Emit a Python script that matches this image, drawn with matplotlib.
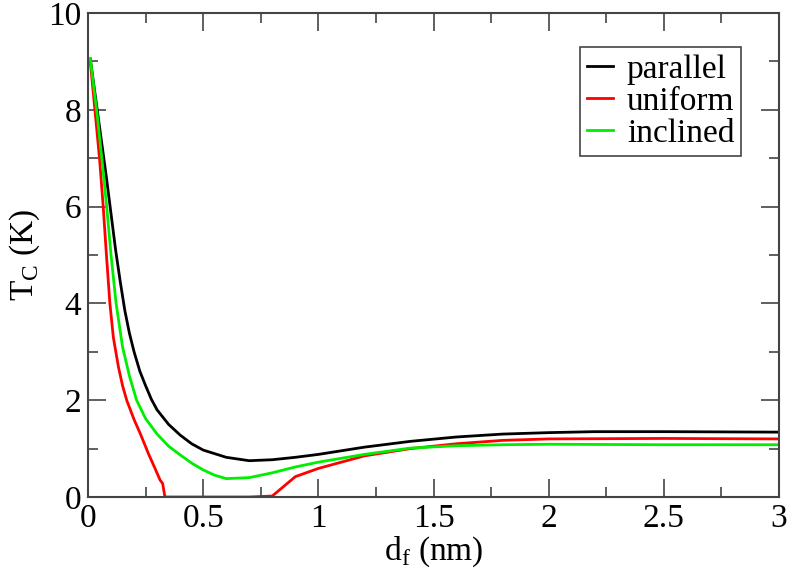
import numpy as np
import matplotlib
matplotlib.use("Agg")
import matplotlib.pyplot as plt
from matplotlib.ticker import MultipleLocator

# --------------------------------------------
# Data
# --------------------------------------------
d_par = [0.01, 0.02, 0.04, 0.06, 0.08, 0.1, 0.12, 0.14, 0.16, 0.18, 0.2, 0.225,
         0.25, 0.275, 0.3, 0.35, 0.4, 0.45, 0.5, 0.6, 0.7, 0.8, 0.9, 1.0, 1.2,
         1.4, 1.6, 1.8, 2.0, 2.2, 2.5, 3.0]
tc_par = [9.05, 8.7, 8.0, 7.3, 6.6, 5.85, 5.1, 4.45, 3.85, 3.38, 3.0, 2.6,
          2.3, 2.02, 1.8, 1.5, 1.28, 1.1, 0.97, 0.82, 0.75, 0.77, 0.82, 0.88, 1.03,
          1.15, 1.24, 1.30, 1.33, 1.35, 1.35, 1.34]

d_uni = [0.01, 0.03, 0.05, 0.066, 0.08, 0.095, 0.11, 0.132, 0.15, 0.168, 0.2,
         0.226, 0.262, 0.29, 0.313, 0.324, 0.334, 0.4, 0.5, 0.6, 0.7, 0.8, 0.9,
         1.0, 1.2, 1.4, 1.6, 1.8, 2.0, 2.5, 3.0]
tc_uni = [9.0, 8.0, 7.0, 6.0, 5.0, 4.0, 3.3, 2.69, 2.3, 2.0, 1.6,
          1.32, 0.9, 0.6, 0.35, 0.28, 0.0, 0.0, 0.0, 0.0, 0.0, 0.02, 0.42,
          0.59, 0.85, 1.0, 1.1, 1.17, 1.2, 1.21, 1.2]

d_inc = [0.01, 0.04, 0.06, 0.081, 0.1, 0.122, 0.15, 0.18, 0.211, 0.25, 0.3,
         0.35, 0.4, 0.45, 0.5, 0.55, 0.6, 0.7, 0.8, 0.9, 1.0, 1.2, 1.4, 1.6,
         1.8, 2.0, 2.5, 3.0]
tc_inc = [9.05, 7.9, 7.0, 6.0, 5.0, 4.0, 3.1, 2.5, 2.0, 1.62, 1.3,
          1.05, 0.87, 0.7, 0.56, 0.45, 0.38, 0.40, 0.50, 0.62, 0.72, 0.88, 1.01, 1.06,
          1.08, 1.09, 1.08, 1.08]

# --------------------------------------------
# Style
# --------------------------------------------
plt.rcParams['font.family'] = ['Liberation Serif', 'DejaVu Serif']
plt.rcParams['mathtext.fontset'] = 'custom'
plt.rcParams['mathtext.rm'] = 'Liberation Serif'
plt.rcParams['font.size'] = 24

fig = plt.figure(figsize=(7.89, 5.76), dpi=100)
ax = fig.add_axes([88/789, 79/576, 691/789, 484/576])

ax.plot(d_par, tc_par, color='black', lw=2, label='parallel')
ax.plot(d_uni, tc_uni, color='red', lw=2, label='uniform')
ax.plot(d_inc, tc_inc, color='#00ee00', lw=2, label='inclined')

ax.set_xlim(0, 3)
ax.set_ylim(0, 10)
ax.xaxis.set_minor_locator(MultipleLocator(0.25))
ax.yaxis.set_major_locator(MultipleLocator(2))
ax.yaxis.set_minor_locator(MultipleLocator(1))
ax.set_xticks([0, 0.5, 1, 1.5, 2, 2.5, 3])
ax.set_xticklabels(['0', '0.5', '1', '1.5', '2', '2.5', '3'])
ax.tick_params(which='both', direction='in', top=True, right=True,
               color='#444444', width=1.2, labelsize=24, pad=5)
ax.tick_params(which='major', length=13)
ax.tick_params(which='minor', length=7)
for s in ax.spines.values():
    s.set_color('#444444')
    s.set_linewidth(1.5)

ax.set_xlabel(r'd$_\mathrm{f}$ (nm)', fontsize=24, labelpad=0)
ax.set_ylabel(r'T$_\mathrm{C}$ (K)', fontsize=24, labelpad=4)

leg = ax.legend(loc='upper right', bbox_to_anchor=(0.945, 0.929),
                fancybox=False, edgecolor='#444444', framealpha=1,
                handlelength=0.8, handletextpad=0.4, labelspacing=0.05,
                borderpad=0.2, borderaxespad=0, fontsize=24)
leg.get_frame().set_linewidth(1.2)

fig.savefig('out.png', dpi=100)
